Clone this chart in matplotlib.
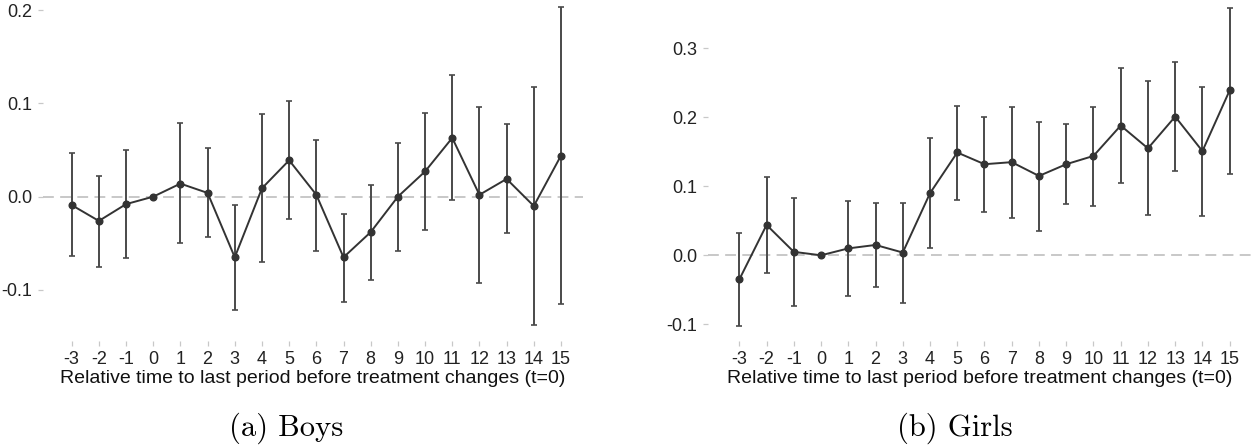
import numpy as np
import matplotlib
matplotlib.use('Agg')
import matplotlib.pyplot as plt

periods = [-3, -2, -1, 0, 1, 2, 3, 4, 5, 6, 7, 8, 9, 10, 11, 12, 13, 14, 15]

boysEst = [-0.009, -0.026, -0.008, 0.0, 0.014, 0.004, -0.065, 0.009, 0.039, 0.002,
           -0.065, -0.038, 0.0, 0.027, 0.063, 0.002, 0.019, -0.010, 0.044]
boysLow = [-0.064, -0.075, -0.066, 0.0, -0.050, -0.043, -0.122, -0.070, -0.024, -0.058,
           -0.113, -0.089, -0.058, -0.036, -0.004, -0.092, -0.039, -0.138, -0.115]
boysHigh = [0.047, 0.022, 0.050, 0.0, 0.079, 0.052, -0.009, 0.089, 0.103, 0.061,
            -0.019, 0.012, 0.058, 0.090, 0.130, 0.096, 0.078, 0.118, 0.203]

girlsEst = [-0.035, 0.044, 0.005, 0.0, 0.010, 0.015, 0.004, 0.090, 0.149, 0.132,
            0.135, 0.115, 0.132, 0.144, 0.188, 0.155, 0.201, 0.151, 0.239]
girlsLow = [-0.102, -0.025, -0.073, 0.0, -0.059, -0.046, -0.069, 0.011, 0.080, 0.063,
            0.054, 0.035, 0.074, 0.071, 0.105, 0.058, 0.122, 0.057, 0.118]
girlsHigh = [0.032, 0.114, 0.083, 0.0, 0.079, 0.076, 0.076, 0.170, 0.217, 0.201,
             0.215, 0.193, 0.190, 0.215, 0.271, 0.252, 0.280, 0.244, 0.359]

boysTicks = [-0.1, 0.0, 0.1, 0.2]
girlsTicks = [-0.1, 0.0, 0.1, 0.2, 0.3]

xLabel = "Relative time to last period before treatment changes (t=0)"

plt.rcParams['font.family'] = ['Liberation Sans', 'DejaVu Sans']

fig = plt.figure(figsize=(12.54, 4.46), dpi=100)

def drawPanel(rect, est, low, high, yTicks, yLim, xLim, caption, captionX):
    axes = fig.add_axes(rect)
    est = np.array(est)
    yerr = np.vstack([est - np.array(low), np.array(high) - est])

    axes.axhline(0, color='#c4c4c4', linewidth=1.3, linestyle=(0, (6, 3.5)), zorder=1)
    axes.errorbar(periods, est, yerr=yerr, fmt='none', ecolor='#4a4a4a',
                  elinewidth=1.4, capsize=2.3, capthick=1.2, zorder=2)
    axes.plot(periods, est, color='#333333', linewidth=1.4, marker='o',
              markersize=4.8, zorder=3)

    axes.set_xlim(*xLim)
    axes.set_ylim(*yLim)
    axes.set_xticks(periods)
    axes.set_xticklabels([str(p) for p in periods])
    axes.set_yticks(yTicks)
    axes.set_yticklabels(['{:.1f}'.format(t) for t in yTicks])

    for side in ['top', 'right', 'bottom', 'left']:
        axes.spines[side].set_visible(False)

    axes.tick_params(axis='both', colors='#c8c8c8', length=3.5, width=0.9,
                     labelcolor='#222222', labelsize=13, pad=4)
    axes.set_xlabel(xLabel, fontsize=14, color='#111111', labelpad=1)

    # subfigure caption in a LaTeX-like serif
    fig.text(captionX, (446 - 428) / 446, caption,
             family='cmr10', fontsize=22, ha='center', va='center', color='black')
    return axes

drawPanel([43 / 1254, 105 / 446, 540 / 1254, 341 / 446], boysEst, boysLow, boysHigh,
          boysTicks, (-0.1547, 0.2108), (-4.055, 15.81), "(a) Boys", 286 / 1254)
drawPanel([708 / 1254, 105 / 446, 544 / 1254, 341 / 446], girlsEst, girlsLow, girlsHigh,
          girlsTicks, (-0.1242, 0.370), (-4.15, 15.82), "(b) Girls", 955 / 1254)

fig.savefig('out.png', dpi=100)
